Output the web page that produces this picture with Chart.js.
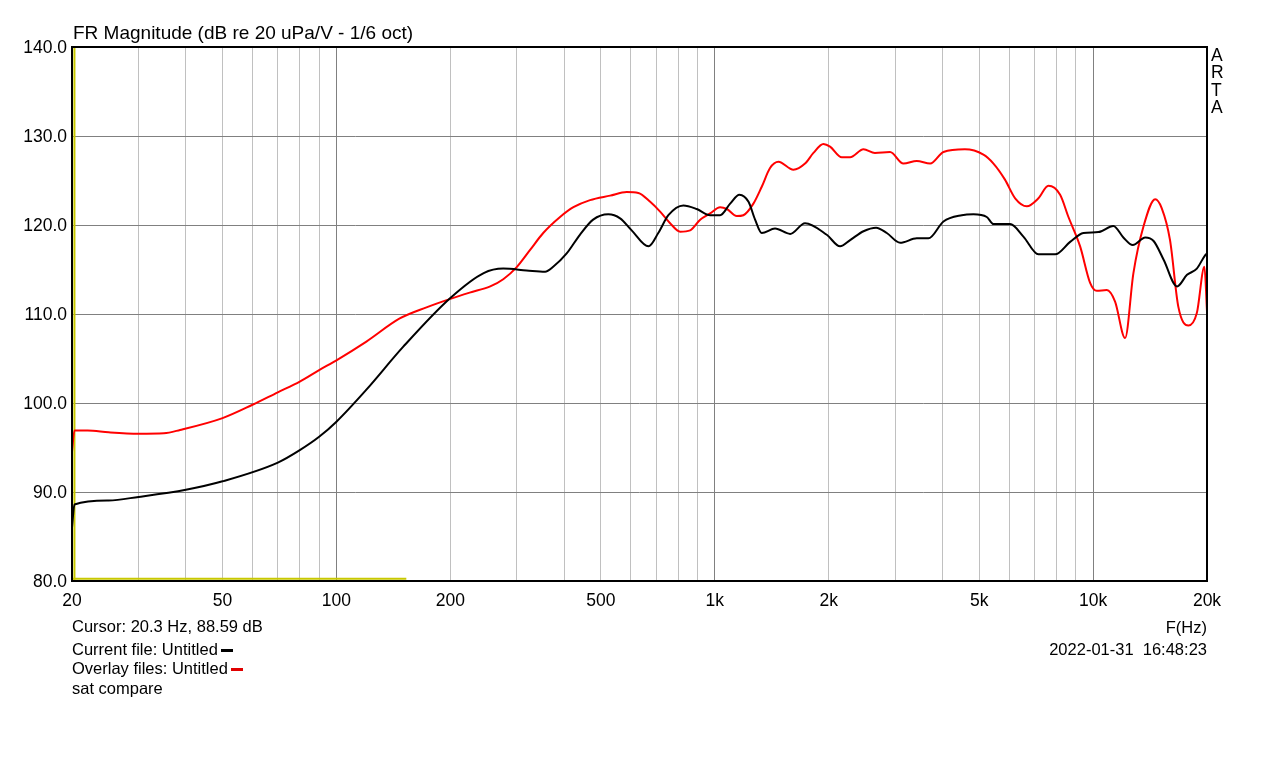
<!DOCTYPE html>
<html>
<head>
<meta charset="utf-8">
<script src="https://cdn.jsdelivr.net/npm/chart.js@4"></script>
<style>
    body { margin: 0; background: #fff; }
    #wrap { position: relative; width: 1279px; height: 768px; font-family: 'Liberation Sans', Arial, sans-serif; font-size: 16.5px; color: #000; }
    #wrap canvas { position: absolute; left: 0; top: 0; }
    .txt { position: absolute; line-height: 20px; white-space: pre; }
    .dash { display: inline-block; width: 12px; height: 3px; vertical-align: middle; margin-left: 3px; }
</style>
</head>
<body>
<div id="wrap">
    <canvas id="frChart" width="1279" height="768"></canvas>
    <div class="txt" style="left:73px; top:23px; font-size:19px;">FR Magnitude (dB re 20 uPa/V - 1/6 oct)</div>
    <div class="txt" style="left:1211px; top:47px; line-height:17.4px; font-size:17.5px;">A<br>R<br>T<br>A</div>
    <div class="txt" style="left:72px; top:616px;">Cursor: 20.3 Hz, 88.59 dB</div>
    <div class="txt" style="left:72px; top:639px;">Current file: Untitled<span class="dash" style="background:#000"></span></div>
    <div class="txt" style="left:72px; top:658px;">Overlay files: Untitled<span class="dash" style="background:#e00000"></span></div>
    <div class="txt" style="left:72px; top:678px;">sat compare</div>
    <div class="txt" style="right:72px; top:617px;">F(Hz)</div>
    <div class="txt" style="right:72px; top:639px;">2022-01-31  16:48:23</div>
</div>
<script>
// current file (black)
const blackFreq = [20, 20.3, 25, 30, 40, 50, 70, 80, 90, 100, 120, 150, 200, 245, 276, 318, 356, 374, 406, 440, 477, 523, 562, 603, 668, 709, 754, 826, 896, 972, 1033, 1098, 1162, 1228, 1278, 1331, 1443, 1582, 1732, 1977, 2144, 2279, 2472, 2669, 2849, 3090, 3419, 3670, 4022, 4497, 4827, 5235, 5453, 6033, 6542, 7170, 7935, 8694, 9428, 10330, 11310, 12020, 12730, 13740, 14450, 15360, 16670, 17710, 18800, 19770, 20000];
const blackDb = [86.0, 88.6, 89.05, 89.45, 90.25, 91.2, 93.3, 94.7, 96.2, 97.9, 101.5, 106.3, 111.8, 114.6, 115.1, 114.9, 114.75, 115.3, 116.8, 118.9, 120.6, 121.2, 120.75, 119.4, 117.6, 119.1, 121.1, 122.2, 121.8, 121.1, 121.1, 122.4, 123.4, 122.6, 120.6, 119.1, 119.6, 119.0, 120.2, 118.9, 117.6, 118.3, 119.3, 119.7, 119.1, 118.0, 118.5, 118.5, 120.4, 121.1, 121.2, 120.9, 120.1, 120.1, 118.7, 116.7, 116.7, 118.1, 119.1, 119.2, 119.9, 118.6, 117.75, 118.6, 118.2, 116.1, 113.1, 114.4, 115.1, 116.6, 116.8];

// overlay file (red)
const redFreq = [20, 20.3, 22, 25, 30, 35, 38.6, 50, 60, 70, 80, 90, 100, 120, 147, 173, 200, 225, 255, 276, 300, 325, 352, 390, 423, 468, 529, 585, 628, 675, 717, 762, 810, 861, 915, 972, 1033, 1076, 1143, 1190, 1265, 1331, 1400, 1473, 1614, 1732, 1823, 1937, 2017, 2166, 2279, 2472, 2650, 2906, 3152, 3419, 3709, 4022, 4582, 5130, 5453, 5848, 6222, 6680, 7170, 7617, 8181, 8606, 9240, 9819, 10226, 10870, 11430, 12150, 12780, 13580, 14590, 15180, 15970, 16800, 17860, 18800, 19690, 20000];
const redDb = [94.5, 96.9, 96.9, 96.7, 96.55, 96.6, 96.97, 98.3, 99.8, 101.2, 102.4, 103.7, 104.8, 106.9, 109.5, 110.75, 111.7, 112.4, 113.1, 113.9, 115.3, 117.2, 119.1, 120.9, 122.0, 122.8, 123.3, 123.7, 123.6, 122.6, 121.5, 120.2, 119.25, 119.4, 120.6, 121.3, 122.0, 121.8, 121.0, 121.1, 122.4, 124.3, 126.4, 127.1, 126.2, 126.9, 128.1, 129.1, 128.8, 127.6, 127.6, 128.5, 128.1, 128.2, 126.9, 127.2, 126.9, 128.2, 128.5, 127.9, 126.9, 125.1, 123.0, 122.1, 123.0, 124.4, 123.4, 120.9, 117.6, 113.5, 112.6, 112.7, 111.4, 107.3, 114.6, 119.8, 122.9, 121.9, 118.3, 110.8, 108.7, 110.1, 115.3, 110.3];

// cursor marker (yellow)
const cursorFreq = 20.3;
const cursorEndFreq = 153;
const cursorDb = 80.25;

const xGridValues = [20, 30, 40, 50, 60, 70, 80, 90, 100, 200, 300, 400, 500, 600, 700, 800, 900, 1000, 2000, 3000, 4000, 5000, 6000, 7000, 8000, 9000, 10000, 20000];
const xTickLabels = { 20: '20', 50: '50', 100: '100', 200: '200', 500: '500', 1000: '1k', 2000: '2k', 5000: '5k', 10000: '10k', 20000: '20k' };
const decadeLines = [100, 1000, 10000];

const yMin = 80;
const yMax = 140;
const yStep = 10;

function toPoints(freqs, values) {
    return freqs.map((f, i) => ({ x: f, y: values[i] }));
}

// black frame round the plot area
const frameBox = {
    id: 'frameBox',
    afterDraw(chart) {
        const a = chart.chartArea;
        const ctx = chart.ctx;
        ctx.save();
        ctx.strokeStyle = '#000';
        ctx.lineWidth = 2;
        ctx.strokeRect(a.left, a.top, a.right - a.left, a.bottom - a.top);
        ctx.restore();
    }
};

const tickFont = { family: "'Liberation Sans', Arial, sans-serif", size: 17.5 };

const ctx = document.getElementById('frChart').getContext('2d');
const chartFR = new Chart(ctx, {
    type: 'line',
    data: {
        datasets: [
            {
                label: 'Current file',
                data: toPoints(blackFreq, blackDb),
                borderColor: '#000000',
                borderWidth: 2,
                pointRadius: 0,
                cubicInterpolationMode: 'monotone',
                order: 1
            },
            {
                label: 'Overlay',
                data: toPoints(redFreq, redDb),
                borderColor: '#ff0000',
                borderWidth: 2,
                pointRadius: 0,
                cubicInterpolationMode: 'monotone',
                order: 2
            },
            {
                label: 'cursor v',
                data: [{ x: cursorFreq, y: yMax }, { x: cursorFreq, y: yMin }],
                borderColor: '#c8c800',
                borderWidth: 2,
                pointRadius: 0,
                order: 3
            },
            {
                label: 'cursor h',
                data: [{ x: 20, y: cursorDb }, { x: cursorEndFreq, y: cursorDb }],
                borderColor: '#c8c800',
                borderWidth: 2,
                pointRadius: 0,
                order: 3
            }
        ]
    },
    options: {
        responsive: false,
        animation: false,
        layout: { padding: { top: 47, right: 72, left: 0, bottom: 0 } },
        plugins: {
            legend: { display: false },
            tooltip: { enabled: false }
        },
        scales: {
            x: {
                type: 'logarithmic',
                min: 20,
                max: 20000,
                afterFit: (scale) => { scale.height = 187; },
                afterBuildTicks: (scale) => { scale.ticks = xGridValues.map(v => ({ value: v })); },
                grid: {
                    drawTicks: false,
                    color: (c) => decadeLines.includes(c.tick && c.tick.value) ? '#808080' : '#c0c0c0',
                    lineWidth: 1
                },
                border: { display: false },
                ticks: {
                    autoSkip: false,
                    maxRotation: 0,
                    padding: 10,
                    color: '#000',
                    font: tickFont,
                    callback: (v) => xTickLabels[v] || ''
                }
            },
            y: {
                min: yMin,
                max: yMax,
                afterFit: (scale) => { scale.width = 72; },
                grid: { drawTicks: false, color: '#808080', lineWidth: 1 },
                border: { display: false },
                ticks: {
                    stepSize: yStep,
                    padding: 5,
                    labelOffset: 1.5,
                    color: '#000',
                    font: tickFont,
                    callback: (v) => v.toFixed(1)
                }
            }
        }
    },
    plugins: [frameBox]
});
</script>
</body>
</html>
